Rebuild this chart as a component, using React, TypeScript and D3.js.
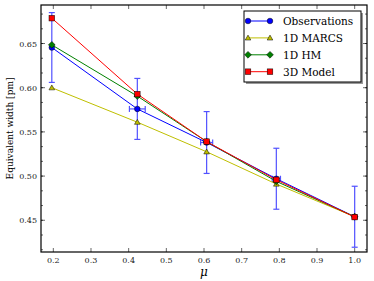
import React from "react";
import * as d3 from "d3";

const mu = [0.196, 0.423, 0.607, 0.792, 1.0];
const observations = [0.6455, 0.576, 0.538, 0.497, 0.454];
const obsYErr = [0.0395, 0.0345, 0.035, 0.0345, 0.0345];
const obsXErr = [0.0, 0.021, 0.016, 0.011, 0.0];
const marcs = [0.6, 0.561, 0.5275, 0.491, 0.454];
const hm = [0.6485, 0.5905, 0.539, 0.494, 0.454];
const model3d = [0.6787, 0.5928, 0.539, 0.4958, 0.4536];
const xTicks = [0.2, 0.3, 0.4, 0.5, 0.6, 0.7, 0.8, 0.9, 1.0];
const yTicks = [0.45, 0.5, 0.55, 0.6, 0.65];
const seriesNames = ["Observations", "1D MARCS", "1D HM", "3D Model"];

const W = 374, H = 281;
const L = 41, R = 367, T = 5, B = 252;
const FONT = "DejaVu Serif";

const x = d3.scaleLinear().domain([0.1673, 1.0327]).range([L, R]);
const y = d3.scaleLinear().domain([0.4141, 0.6936]).range([B, T]);

function Marker({ kind, cx, cy }: { kind: string; cx: number; cy: number }) {
  if (kind === "circle") return <circle cx={cx} cy={cy} r={2.8} fill="#0000ff" stroke="#000" strokeWidth={0.5} />;
  if (kind === "tri") {
    const p = d3.symbol(d3.symbolTriangle, 14)();
    return <path d={p || ""} transform={`translate(${cx},${cy + 0.5})`} fill="#bfbf00" stroke="#000" strokeWidth={0.5} />;
  }
  if (kind === "diamond") {
    const s = 3.4;
    return <path d={`M${cx},${cy - s}L${cx + s},${cy}L${cx},${cy + s}L${cx - s},${cy}Z`} fill="#008000" stroke="#000" strokeWidth={0.5} />;
  }
  return <rect x={cx - 2.8} y={cy - 2.8} width={5.6} height={5.6} fill="#ff0000" stroke="#000" strokeWidth={0.5} />;
}

export default function App() {
  const line = d3.line<number>().x((_, i) => x(mu[i])).y((d) => y(d));
  const series = [
    { vals: observations, color: "#0000ff", kind: "circle" },
    { vals: marcs, color: "#bfbf00", kind: "tri" },
    { vals: hm, color: "#008000", kind: "diamond" },
    { vals: model3d, color: "#ff0000", kind: "square" },
  ];
  const minorY: number[] = [];
  for (let v = 0.45 - 0.05 / 3 * 2; v < 0.694; v += 0.05 / 3) {
    if (v > 0.4141) minorY.push(v);
  }
  return (
    <svg width={W} height={H} style={{ position: "absolute", left: 0, top: 0 }}>
      <rect width={W} height={H} fill="#fff" />
      {/* error bars */}
      <g stroke="#3333ff" strokeWidth={1.2} opacity={0.85}>
        {mu.map((m, i) => (
          <g key={i}>
            <line x1={x(m)} x2={x(m)} y1={y(observations[i] - obsYErr[i])} y2={y(observations[i] + obsYErr[i])} />
            <line x1={x(m) - 3} x2={x(m) + 3} y1={y(observations[i] - obsYErr[i])} y2={y(observations[i] - obsYErr[i])} />
            <line x1={x(m) - 3} x2={x(m) + 3} y1={y(observations[i] + obsYErr[i])} y2={y(observations[i] + obsYErr[i])} />
            {obsXErr[i] > 0 && (
              <g>
                <line x1={x(m - obsXErr[i])} x2={x(m + obsXErr[i])} y1={y(observations[i])} y2={y(observations[i])} />
                <line x1={x(m - obsXErr[i])} x2={x(m - obsXErr[i])} y1={y(observations[i]) - 3} y2={y(observations[i]) + 3} />
                <line x1={x(m + obsXErr[i])} x2={x(m + obsXErr[i])} y1={y(observations[i]) - 3} y2={y(observations[i]) + 3} />
              </g>
            )}
          </g>
        ))}
      </g>
      {series.map((s, si) => (
        <g key={si}>
          <path d={line(s.vals) || ""} fill="none" stroke={s.color} strokeWidth={1} />
          {s.vals.map((v, i) => (
            <Marker key={i} kind={s.kind} cx={x(mu[i])} cy={y(v)} />
          ))}
        </g>
      ))}
      {/* frame */}
      <rect x={L} y={T} width={R - L} height={B - T} fill="none" stroke="#000" strokeWidth={1.2} />
      {/* ticks */}
      <g stroke="#000" strokeWidth={0.6}>
        {xTicks.map((t) => (
          <g key={t}>
            <line x1={x(t)} x2={x(t)} y1={B} y2={B - 4} />
            <line x1={x(t)} x2={x(t)} y1={T} y2={T + 4} />
          </g>
        ))}
        {yTicks.map((t) => (
          <g key={t}>
            <line x1={L} x2={L + 4} y1={y(t)} y2={y(t)} />
            <line x1={R} x2={R - 4} y1={y(t)} y2={y(t)} />
          </g>
        ))}
        {minorY.map((t, i) => (
          <g key={"m" + i}>
            <line x1={L} x2={L + 2} y1={y(t)} y2={y(t)} />
            <line x1={R} x2={R - 2} y1={y(t)} y2={y(t)} />
          </g>
        ))}
      </g>
      <g fontFamily={FONT} fontSize={8} fill="#222">
        {xTicks.map((t) => (
          <text key={t} x={x(t)} y={B + 11} textAnchor="middle">{t.toFixed(1)}</text>
        ))}
        {yTicks.map((t) => (
          <text key={t} x={L - 4} y={y(t) + 3} textAnchor="end">{t.toFixed(2)}</text>
        ))}
      </g>
      <text x={(L + R) / 2} y={276} textAnchor="middle" fontFamily={FONT} fontStyle="italic" fontSize={12}>μ</text>
      <text transform={`translate(13,${(T + B) / 2}) rotate(-90)`} textAnchor="middle" fontFamily={FONT} fontSize={9}>Equivalent width [pm]</text>
      {/* legend */}
      <rect x={246} y={13} width={117} height={71} fill="#999" />
      <rect x={244} y={11} width={117} height={71} fill="#fff" stroke="#000" strokeWidth={1} />
      {series.map((s, i) => {
        const ly = 21 + i * 16.9;
        return (
          <g key={i}>
            <line x1={248} x2={270} y1={ly} y2={ly} stroke={s.color} strokeWidth={1} />
            <Marker kind={s.kind} cx={248} cy={ly} />
            <Marker kind={s.kind} cx={270} cy={ly} />
            <text x={283} y={ly + 4} fontFamily={FONT} fontSize={10.5}>{seriesNames[i]}</text>
          </g>
        );
      })}
    </svg>
  );
}
